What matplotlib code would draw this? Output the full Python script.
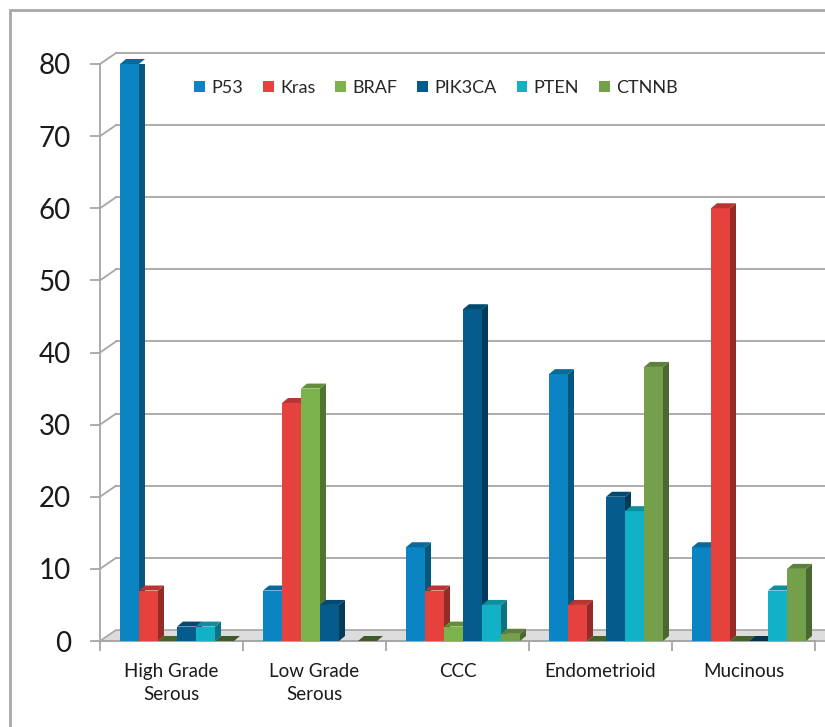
# Gráfico de barras con efecto 3D: mutaciones por tipo histológico
import matplotlib.pyplot as plt
from matplotlib.patches import Polygon, Patch, Rectangle
import numpy as np

# Datos
categorias = ['High Grade\nSerous', 'Low Grade\nSerous', 'CCC', 'Endometrioid', 'Mucinous']
genes = ['P53', 'Kras', 'BRAF', 'PIK3CA', 'PTEN', 'CTNNB']
p53 = [80, 7, 13, 37, 13]
kras = [7, 33, 7, 5, 60]
braf = [0, 35, 2, 0, 0]
pik3ca = [2, 5, 46, 20, 0]
pten = [2, np.nan, 5, 18, 7]
ctnnb = [0, 0, 1, 38, 10]
series = [p53, kras, braf, pik3ca, pten, ctnnb]
colores = ['#0a84c2', '#e5423e', '#7cb24a', '#055c8c', '#12b2c6', '#74a04c']

plt.rcParams['font.family'] = ['Lato', 'DejaVu Sans']

fig = plt.figure(figsize=(8.25, 7.27), dpi=100)
ax = fig.add_axes([100/825, 86/727, 715/825, 577/727])
ax.set_xlim(0, 5)
ax.set_ylim(0, 80)

# Marco exterior gris
fig.patches.append(Rectangle((10/825, -0.1), 1.2, 717/727 + 0.1, transform=fig.transFigure,
                             fill=False, edgecolor='#a8a8a8', linewidth=2))

# Profundidad de la pared del fondo y de las barras (en unidades de datos)
gdx, gdy = 16/143, 11/7.21
bdx, bdy = 6/143, 5/7.21
ancho = 19/143
inicio = 20/143

def oscurecer(c, f):
    r, g, b = [int(c[i:i+2], 16)/255 for i in (1, 3, 5)]
    return (r*f, g*f, b*f)

# Piso y líneas de cuadrícula en perspectiva
piso = Polygon([(0, 0), (5.3, 0), (5.3 + gdx, gdy), (gdx, gdy)], closed=True,
               facecolor='#dcdcdc', edgecolor='#a6a6a6', linewidth=1.2, clip_on=False, zorder=1)
ax.add_patch(piso)
for v in range(10, 90, 10):
    ax.plot([gdx, 5.5], [v + gdy, v + gdy], color='#a6a6a6', lw=1.3, clip_on=False, zorder=0)
    ax.plot([0, gdx], [v, v + gdy], color='#a6a6a6', lw=1.3, clip_on=False, zorder=0)

# Barras: cara frontal, lateral y superior
for j, vals in enumerate(series):
    c = colores[j]
    for i, v in enumerate(vals):
        if np.isnan(v):
            continue
        x = i + inicio + j*ancho
        z = 3 + j
        if v > 0:
            ax.bar(x, v, width=ancho, align='edge', color=c, linewidth=0, zorder=z)
            lado = Polygon([(x + ancho, 0), (x + ancho + bdx, bdy), (x + ancho + bdx, v + bdy), (x + ancho, v)],
                           closed=True, facecolor=oscurecer(c, 0.65), linewidth=0, zorder=z)
            ax.add_patch(lado)
        arriba = Polygon([(x, v), (x + ancho, v), (x + ancho + bdx, v + bdy), (x + bdx, v + bdy)],
                         closed=True, facecolor=oscurecer(c, 0.8 if v > 0 else 0.55), linewidth=0,
                         zorder=z, clip_on=False)
        ax.add_patch(arriba)

# Ejes
for s in ['top', 'right']:
    ax.spines[s].set_visible(False)
ax.spines['left'].set_color('#a6a6a6')
ax.spines['bottom'].set_color('#a6a6a6')
ax.spines['left'].set_linewidth(1.3)
ax.spines['bottom'].set_linewidth(1.3)

ax.set_yticks(range(0, 90, 10))
ax.tick_params(axis='y', length=7, width=1.3, color='#a6a6a6', pad=14, labelsize=20, labelcolor='#1a1a1a')
ax.set_xticks(range(0, 6))
ax.set_xticklabels([])
ax.set_xticks(np.arange(5) + 0.5, minor=True)
ax.set_xticklabels(categorias, minor=True, fontsize=13.5, linespacing=1.4, color='#1a1a1a')
ax.tick_params(axis='x', which='major', length=7, width=1.3, color='#a6a6a6')
ax.tick_params(axis='x', which='minor', length=0, pad=16)

# Leyenda
manejadores = [Patch(facecolor=c, edgecolor='none') for c in colores]
fig.legend(manejadores, genes, loc='center', bbox_to_anchor=(436/825, 1 - 88/727), ncol=6,
           frameon=False, fontsize=13, handlelength=0.6, handleheight=0.6,
           handletextpad=0.35, columnspacing=1.1, labelcolor='#262626')

fig.savefig('out.png', dpi=100)
